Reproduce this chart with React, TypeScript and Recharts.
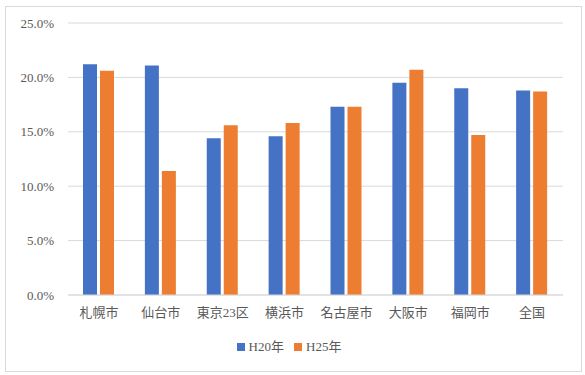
import { BarChart, Bar, XAxis, YAxis, CartesianGrid, Legend } from "recharts";

const BLUE = "#4472C4";
const ORANGE = "#ED7D31";
const GRID = "#D9D9D9";
const TEXT = "#595959";
const FONT = '"Liberation Serif", "Times New Roman", "DejaVu Serif", serif, "Noto Sans CJK JP"';

const cities = ["札幌市", "仙台市", "東京23区", "横浜市", "名古屋市", "大阪市", "福岡市", "全国"];
const h20 = [21.2, 21.1, 14.4, 14.6, 17.3, 19.5, 19.0, 18.8];
const h25 = [20.6, 11.4, 15.6, 15.8, 17.3, 20.7, 14.7, 18.7];
const yTicks = [0, 5, 10, 15, 20, 25];

const data = cities.map((name, i) => ({ name, h20: h20[i], h25: h25[i] }));

function YTick({ x, y, payload }: any) {
  return (
    <text x={x} y={y} dy="0.35em" textAnchor="end" fill={TEXT} fontSize={13} style={{ fontFamily: FONT }}>
      {`${Number(payload.value).toFixed(1)}%`}
    </text>
  );
}

function XTick({ x, y, payload }: any) {
  return (
    <text x={x} y={y} dy="0.71em" textAnchor="middle" fill={TEXT} fontSize={13} style={{ fontFamily: FONT }}>
      {payload.value}
    </text>
  );
}

export default function App() {
  return (
    <div style={{ position: "absolute", left: 0, top: 0, width: 585, height: 375, background: "#fff", fontFamily: FONT }}>
      <div style={{ position: "absolute", left: 5, top: 6, width: 575, height: 364, border: `1px solid ${GRID}` }} />
      <BarChart
        width={585}
        height={375}
        data={data}
        margin={{ top: 23, right: 22, left: 5, bottom: 20 }}
        barSize={14}
        barGap={3}
      >
        <CartesianGrid vertical={false} stroke={GRID} />
        <XAxis
          dataKey="name"
          axisLine={{ stroke: GRID }}
          tickLine={false}
          tickSize={0}
          tickMargin={13}
          height={41}
          tick={<XTick />}
          interval={0}
        />
        <YAxis
          width={63}
          domain={[0, 25]}
          ticks={yTicks}
          axisLine={false}
          tickLine={false}
          tickSize={0}
          tickMargin={14}
          tick={<YTick />}
        />
        <Legend
          verticalAlign="bottom"
          iconType="square"
          iconSize={8}
          wrapperStyle={{ paddingLeft: 10 }}
          formatter={(value: string) => <span style={{ color: TEXT, fontSize: 13, fontFamily: FONT }}>{value}</span>}
        />
        <Bar dataKey="h20" name="H20年" fill={BLUE} isAnimationActive={false} />
        <Bar dataKey="h25" name="H25年" fill={ORANGE} isAnimationActive={false} />
      </BarChart>
    </div>
  );
}
